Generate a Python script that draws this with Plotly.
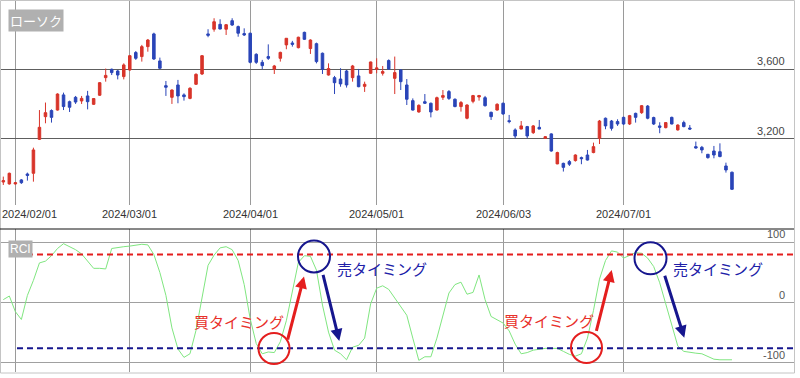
import plotly.graph_objects as go

W, H = 800, 378

# ---------------- data ----------------
opens = [2953, 2942, 2942, 2965, 2999, 3003, 3198, 3328, 3363, 3366,
         3453, 3414, 3439, 3418, 3447, 3399, 3451, 3552, 3600, 3590,
         3558, 3596, 3696, 3673, 3730, 3803, 3648, 3506, 3439, 3510,
         3453, 3433, 3514, 3573, 3803, 3830, 3858, 3830, 3879, 3845,
         3805, 3807, 3686, 3640, 3673, 3600, 3663, 3740, 3751, 3724,
         3812, 3719, 3747, 3692, 3567, 3552, 3544, 3590, 3552, 3562,
         3502, 3577, 3600, 3577, 3650, 3548, 3596, 3510, 3420, 3355,
         3414, 3405, 3366, 3439, 3472, 3428, 3386, 3319, 3416, 3441,
         3437, 3353, 3366, 3405, 3305, 3252, 3257, 3271, 3236, 3267,
         3204, 3229, 3057, 3060, 3070, 3076, 3093, 3108, 3122, 3204,
         3319, 3303, 3300, 3324, 3286, 3347, 3351, 3389, 3323, 3275,
         3265, 3324, 3252, 3294, 3263, 3156, 3152, 3112, 3131, 3127,
         3045, 3009]
highs = [2984, 3007, 2953, 2970, 3007, 3150, 3366, 3409, 3370, 3462,
         3466, 3420, 3447, 3447, 3476, 3435, 3527, 3604, 3604, 3596,
         3634, 3682, 3705, 3740, 3774, 3810, 3667, 3533, 3485, 3539,
         3462, 3497, 3577, 3682, 3830, 3893, 3887, 3860, 3893, 3851,
         3835, 3810, 3692, 3654, 3743, 3625, 3701, 3778, 3763, 3787,
         3816, 3772, 3753, 3696, 3634, 3562, 3606, 3596, 3625, 3602,
         3529, 3644, 3663, 3619, 3657, 3673, 3600, 3544, 3433, 3399,
         3458, 3409, 3443, 3481, 3481, 3433, 3418, 3399, 3453, 3453,
         3447, 3357, 3405, 3409, 3338, 3261, 3303, 3275, 3280, 3309,
         3217, 3233, 3127, 3064, 3079, 3112, 3099, 3137, 3179, 3309,
         3323, 3309, 3313, 3328, 3338, 3351, 3395, 3395, 3328, 3296,
         3296, 3328, 3284, 3305, 3280, 3185, 3160, 3114, 3160, 3175,
         3064, 3013]
lows = [2936, 2938, 2938, 2942, 2961, 2955, 3194, 3290, 3294, 3363,
        3366, 3355, 3401, 3401, 3370, 3395, 3447, 3529, 3567, 3542,
        3542, 3592, 3654, 3644, 3701, 3654, 3600, 3447, 3401, 3405,
        3420, 3428, 3510, 3567, 3784, 3816, 3830, 3797, 3849, 3787,
        3791, 3634, 3631, 3600, 3654, 3573, 3644, 3715, 3730, 3720,
        3768, 3688, 3634, 3573, 3564, 3458, 3500, 3495, 3529, 3497,
        3470, 3573, 3577, 3564, 3596, 3458, 3481, 3395, 3363, 3351,
        3401, 3324, 3363, 3424, 3424, 3382, 3357, 3313, 3405, 3420,
        3386, 3309, 3363, 3338, 3290, 3204, 3256, 3204, 3229, 3256,
        3200, 3127, 3055, 3013, 3045, 3070, 3055, 3076, 3118, 3171,
        3256, 3248, 3275, 3280, 3280, 3294, 3344, 3313, 3280, 3233,
        3261, 3284, 3248, 3267, 3252, 3145, 3118, 3087, 3089, 3095,
        3007, 2907]
closes = [2961, 3003, 2949, 2949, 2991, 3137, 3267, 3351, 3324, 3458,
          3386, 3382, 3412, 3433, 3414, 3432, 3523, 3565, 3581, 3567,
          3625, 3678, 3663, 3730, 3768, 3659, 3606, 3497, 3481, 3447,
          3443, 3491, 3571, 3678, 3795, 3873, 3831, 3856, 3854, 3807,
          3797, 3640, 3640, 3621, 3663, 3619, 3697, 3778, 3743, 3784,
          3772, 3768, 3644, 3600, 3604, 3523, 3516, 3510, 3619, 3500,
          3514, 3642, 3608, 3587, 3602, 3581, 3529, 3428, 3366, 3393,
          3405, 3355, 3437, 3449, 3433, 3386, 3409, 3395, 3449, 3449,
          3391, 3328, 3399, 3344, 3300, 3217, 3275, 3217, 3275, 3257,
          3213, 3131, 3122, 3037, 3055, 3108, 3087, 3079, 3156, 3303,
          3275, 3261, 3286, 3286, 3334, 3324, 3391, 3319, 3286, 3267,
          3294, 3286, 3280, 3271, 3257, 3148, 3137, 3093, 3108, 3099,
          3022, 2911]
rci = [5, 11, -15, -28, 12, 37, 66, 69, 78, 90,
       98, 93, 88, 81, 68, 57, 57, 56, 90, 92,
       93, 94, 95, 97, 96, 80, 50, 12, -42, -77,
       -91, -85, -46, 8, 62, 79, 91, 93, 88, 70,
       30, -27, -68, -85, -82, -83, -65, -30, 20, 67,
       78, 77, 54, -4, -49, -79, -85, -95, -74, -71,
       -59, -2, 24, 28, 22, 8, -6, -21, -59, -96,
       -90, -90, -59, -21, 16, 30, 34, 14, 17, 46,
       5, -23, -28, -34, -47, -69, -85, -83, -79, -77,
       -76, -76, -76, -81, -86, -89, -85, -59, -13, 39,
       70, 86, 84, 74, 78, 83, 82, 74, 60, 33,
       -2, -36, -72, -81, -83, -84, -85, -89, -94, -95,
       -95, -95]
tick_idx = [2, 21, 41, 62, 83, 103]
tick_labels = ["2024/02/01", "2024/03/01", "2024/04/01", "2024/05/01", "2024/06/03", "2024/07/01"]
price_ticks = [3200, 3600]
price_tick_labels = ["3,200", "3,600"]
rci_ticks = [-100, 0, 100]
rci_tick_labels = ["-100", "0", "100"]
sell_level = 80
buy_level = -76

# ---------------- styles ----------------
RED = "#d8342a"
BLUE = "#2a45b8"
GREEN = "#80e680"
MARK_RED = "#e41e1e"
MARK_BLUE = "#16168e"
TEXT_RED = "#e8302a"
TEXT_BLUE = "#2020a8"
FONT = "Arial, Liberation Sans, sans-serif"
JFONT = "Noto Sans CJK JP, sans-serif"

def px(x):
    return x / W

def py(y):
    return 1 - y / H

XR = 794  # right edge of plot area in px
x = list(range(len(opens)))

fig = go.Figure()
fig.add_trace(go.Candlestick(
    x=x, open=opens, high=highs, low=lows, close=closes,
    increasing=dict(line=dict(color=RED, width=1), fillcolor=RED),
    decreasing=dict(line=dict(color=BLUE, width=1), fillcolor=BLUE),
    whiskerwidth=0, hoverinfo="skip", showlegend=False,
    xaxis="x", yaxis="y"))
fig.add_trace(go.Scatter(
    x=x, y=rci, mode="lines", line=dict(color=GREEN, width=1),
    hoverinfo="skip", showlegend=False, xaxis="x2", yaxis="y2"))

xcommon = dict(range=[-0.55, 131.3], domain=[0, px(XR)], tickvals=tick_idx,
               showticklabels=False, showgrid=True, gridcolor="#9a9a9a", gridwidth=1,
               zeroline=False, showline=False, ticks="", fixedrange=True)

fig.update_layout(
    width=W, height=H, margin=dict(l=0, r=0, t=0, b=0),
    paper_bgcolor="white", plot_bgcolor="white", showlegend=False,
    boxgap=0.4,
    xaxis=dict(**xcommon, anchor="y", rangeslider=dict(visible=False)),
    xaxis2=dict(**xcommon, anchor="y2", matches="x"),
    yaxis=dict(domain=[py(205), 1], range=[2821, 3997.7], tickvals=price_ticks,
               showticklabels=False, showgrid=True, gridcolor="#5e5e5e",
               zeroline=False, anchor="x", side="right", fixedrange=True),
    yaxis2=dict(domain=[py(372), py(229)], range=[-115.3, 122.4], tickvals=rci_ticks,
                showticklabels=False, showgrid=True, gridcolor="#a0a0a0",
                zeroline=False, anchor="x2", side="right", fixedrange=True),
)

shapes = []
# frame
shapes.append(dict(type="rect", xref="paper", yref="paper", x0=px(0.5), x1=px(XR + 0.5),
                   y0=py(373), y1=py(0.5), line=dict(color="#c4c4c4", width=1)))
# separator
shapes.append(dict(type="line", xref="paper", yref="paper", x0=0, x1=px(XR), y0=py(229), y1=py(229),
                   line=dict(color="#111111", width=1)))
# threshold lines
shapes.append(dict(type="line", xref="paper", yref="y2", x0=px(17), x1=px(XR), y0=sell_level, y1=sell_level,
                   line=dict(color=MARK_RED, width=2, dash="6px,4px")))
shapes.append(dict(type="line", xref="paper", yref="y2", x0=px(17), x1=px(XR), y0=buy_level, y1=buy_level,
                   line=dict(color=MARK_BLUE, width=2, dash="6px,4px")))
# circles
for cx, cy, r, col in [(274, 348.5, 15.5, MARK_RED), (314, 256.5, 16, MARK_BLUE),
                       (586.5, 347.5, 15.5, MARK_RED), (650.5, 258.3, 16, MARK_BLUE)]:
    shapes.append(dict(type="circle", xref="paper", yref="paper",
                       x0=px(cx - r), x1=px(cx + r), y0=py(cy + r), y1=py(cy - r),
                       line=dict(color=col, width=2)))
fig.update_layout(shapes=shapes)

ann = []
# panel labels
ann.append(dict(text="ローソク", x=px(8), y=py(9.5), xref="paper", yref="paper", xanchor="left", yanchor="top",
                showarrow=False, bgcolor="#b0b0b0", borderpad=1,
                font=dict(family=JFONT, size=13, color="white")))
ann.append(dict(text="RCI", x=px(8), y=py(239.5), xref="paper", yref="paper", xanchor="left", yanchor="top",
                showarrow=False, bgcolor="#b0b0b0", borderpad=1,
                font=dict(family=FONT, size=12, color="white")))
# date labels
for k, (idx, lab) in enumerate(zip(tick_idx, tick_labels)):
    if k == 0:
        ann.append(dict(text=lab, x=0, xref="paper", xanchor="left", y=py(214), yref="paper",
                        yanchor="middle", showarrow=False, font=dict(family=FONT, size=11, color="#333333")))
    else:
        ann.append(dict(text=lab, x=idx, xref="x", xanchor="center", y=py(214), yref="paper",
                        yanchor="middle", showarrow=False, font=dict(family=FONT, size=11, color="#333333")))
# y tick labels
for v, lab in zip(price_ticks, price_tick_labels):
    ann.append(dict(text=lab, x=px(787), xref="paper", xanchor="right", y=v, yref="y", yanchor="bottom",
                    showarrow=False, font=dict(family=FONT, size=11, color="#444444")))
for v, lab in zip(rci_ticks, rci_tick_labels):
    ann.append(dict(text=lab, x=px(787), xref="paper", xanchor="right", y=v, yref="y2", yanchor="bottom",
                    showarrow=False, font=dict(family=FONT, size=11, color="#555555")))
# timing texts
for t, cx, cy, col in [("買タイミング", 239, 321, TEXT_RED), ("売タイミング", 381.5, 268, TEXT_BLUE),
                       ("買タイミング", 549, 320, TEXT_RED), ("売タイミング", 718, 268, TEXT_BLUE)]:
    ann.append(dict(text=t, x=px(cx), y=py(cy), xref="paper", yref="paper", xanchor="center", yanchor="middle",
                    showarrow=False, font=dict(family=JFONT, size=15, color=col)))
# arrows (tip, tail)
for (tx, ty), (sx, sy), col in [((304, 276.5), (287.3, 341), MARK_RED),
                                ((339.3, 341), (322.7, 273.3), MARK_BLUE),
                                ((611.7, 270), (596, 332.3), MARK_RED),
                                ((684.3, 337.7), (664.3, 274.3), MARK_BLUE)]:
    ann.append(dict(text="", x=px(tx), y=py(ty), xref="paper", yref="paper",
                    ax=sx - tx, ay=sy - ty, axref="pixel", ayref="pixel",
                    showarrow=True, arrowhead=2, arrowsize=0.8, arrowwidth=3, arrowcolor=col,
                    standoff=0, startstandoff=0))
fig.update_layout(annotations=ann)

fig.write_html("out.html", config={"displayModeBar": False})
